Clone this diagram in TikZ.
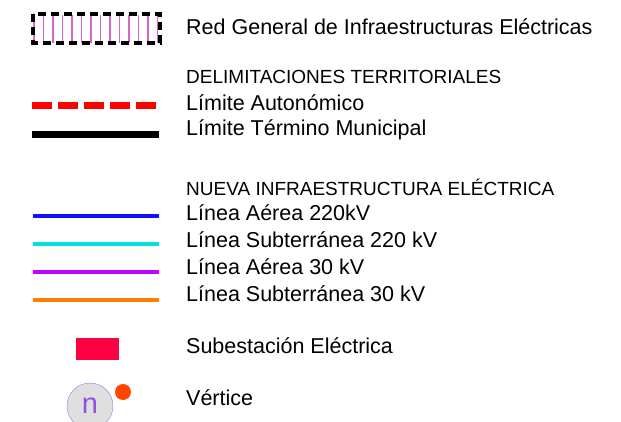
\documentclass[tikz,border=0pt]{standalone}
\usepackage{fontspec}
\setmainfont{Liberation Sans}
\usetikzlibrary{positioning}
\definecolor{RedLine}{HTML}{FF0000}
\definecolor{BlueLine}{HTML}{1010FF}
\definecolor{CyanLine}{HTML}{00E0E0}
\definecolor{PurpleLine}{HTML}{C000FF}
\definecolor{OrangeLine}{HTML}{FF8000}
\definecolor{SubFill}{HTML}{FF0040}
\definecolor{NodeEdge}{HTML}{A070E0}
\definecolor{NodeText}{HTML}{9050E0}
\definecolor{DotFill}{HTML}{FF4500}
\definecolor{GridPink}{HTML}{D020B0}
\tikzset{
	legtext/.style={anchor=west, inner sep=0pt, font=\fontsize{21.5}{24}\selectfont},
	legtitle/.style={legtext, font=\fontsize{19}{22}\selectfont},
	symline/.style={line width=3.5pt},
	boundary/.style={line width=7pt},
	gridbox/.style={draw=black, line width=4pt, dash pattern=on 8pt off 5pt},
}
\begin{document}
\begin{tikzpicture}[x=1pt,y=-1pt]
	\useasboundingbox (0,0) rectangle (621,422);
	% texts
	\node (red)  [legtext]  at (186,27)  {Red General de Infraestructuras Eléctricas};
	\node (deli) [legtitle] at (186,77)  {DELIMITACIONES TERRITORIALES};
	\node (auto) [legtext]  at (186,103) {Límite Autonómico};
	\node (muni) [legtext]  at (186,130) {Límite Término Municipal};
	\node (nuev) [legtitle] at (186,187) {NUEVA INFRAESTRUCTURA ELÉCTRICA};
	\node (a220) [legtext]  at (186,213) {Línea Aérea 220kV};
	\node (s220) [legtext]  at (186,240) {Línea Subterránea 220 kV};
	\node (a30)  [legtext]  at (186,267) {Línea Aérea 30 kV};
	\node (s30)  [legtext]  at (186,294) {Línea Subterránea 30 kV};
	\node (sube) [legtext]  at (186,346) {Subestación Eléctrica};
	\node (vert) [legtext]  at (186,398) {Vértice};
	% red general
	\foreach \x [count=\i] in {34,43.5,...,158}
		\draw [GridPink!\ifodd\i 100\else 70\fi, line width=1.5pt] (\x,15) -- (\x,43);
	\draw [gridbox] (32.5,14) rectangle (159.5,43);
	% lines
	\draw [boundary, RedLine, dash pattern=on 20pt off 6pt] (32,106) -- (159,106);
	\draw [boundary, black] (32,135) -- (159,135);
	\draw [symline, BlueLine]   (33,216) -- (159,216);
	\draw [symline, CyanLine]   (33,244) -- (159,244);
	\draw [symline, PurpleLine] (33,272) -- (159,272);
	\draw [symline, OrangeLine] (33,300) -- (159,300);
	% subestacion
	\fill [SubFill] (76,338) rectangle (119,360);
	% vertice
	\node (n) [circle, draw=NodeEdge, fill=gray!25, minimum size=46pt, inner sep=0pt,
		text=NodeText, font=\fontsize{29}{29}\selectfont] at (90,406) {n};
	\fill [DotFill] (123,392) circle (8pt);
\end{tikzpicture}
\end{document}
